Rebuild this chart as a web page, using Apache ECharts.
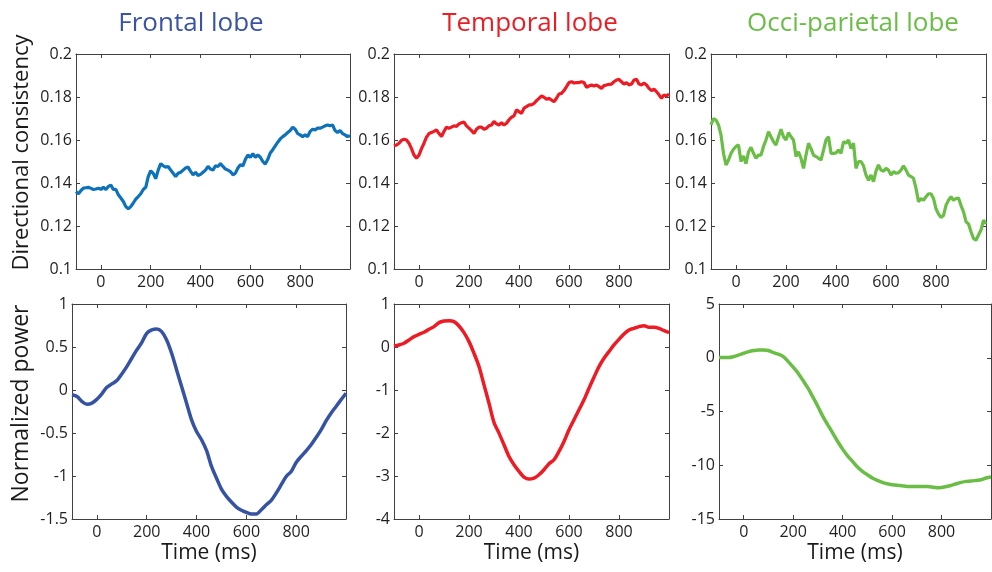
<!DOCTYPE html>
<html>
<head>
<meta charset="utf-8">
<script src="https://cdn.jsdelivr.net/npm/echarts@6/dist/echarts.min.js"></script>
<style>html,body{margin:0;padding:0;background:#fff}#c{width:992px;height:572px}</style>
</head>
<body>
<div id="c"></div>
<script>
// ---- data ----
const panelTitles = ['Frontal lobe', 'Temporal lobe', 'Occi-parietal lobe'];
const xTickValues = [0, 200, 400, 600, 800];
const topYLabel = 'Directional consistency';
const bottomYLabel = 'Normalized power';
const xLabel = 'Time (ms)';

// sampling times (ms)
const tTopStart = -100, tTopStep = 10;   // top panels: -100..1000 every 10 ms
const tBotStart = -100, tBotStep = 20;   // bottom panels: -100..1000 every 20 ms

const frontalConsistency = [
0.136,0.135,0.1365,0.1376,0.1378,0.138,0.1375,0.137,0.1372,0.1376,
0.137,0.138,0.137,0.1384,0.139,0.137,0.137,0.1345,0.133,0.1314,
0.129,0.128,0.129,0.1307,0.1325,0.1337,0.135,0.137,0.138,0.143,
0.1457,0.1445,0.142,0.146,0.149,0.148,0.1474,0.1477,0.146,0.1445,
0.143,0.1445,0.145,0.146,0.147,0.1474,0.1454,0.1438,0.145,0.1435,
0.144,0.145,0.146,0.1477,0.1465,0.146,0.148,0.1477,0.149,0.1477,
0.1465,0.146,0.1453,0.1438,0.1446,0.147,0.1485,0.148,0.151,0.153,
0.152,0.1536,0.152,0.153,0.152,0.150,0.1488,0.151,0.154,0.1555,
0.1573,0.159,0.1605,0.1616,0.1624,0.1635,0.1644,0.166,0.165,0.163,
0.1624,0.1616,0.1624,0.1616,0.164,0.165,0.1647,0.1655,0.1655,0.166,
0.1666,0.167,0.1666,0.167,0.1644,0.1635,0.1644,0.163,0.1624,0.1616,
0.162];

const temporalConsistency = [
0.1573,0.1577,0.1585,0.1598,0.1604,0.160,0.1585,0.156,0.153,0.1515,
0.153,0.156,0.1585,0.1613,0.163,0.1635,0.164,0.1647,0.163,0.1616,
0.164,0.166,0.1655,0.166,0.1666,0.1663,0.1675,0.168,0.1683,0.1666,
0.1655,0.1644,0.163,0.165,0.166,0.166,0.165,0.1655,0.1666,0.167,
0.1686,0.1675,0.167,0.168,0.167,0.1678,0.1694,0.1706,0.1712,0.174,
0.1732,0.1724,0.1748,0.1755,0.1763,0.1763,0.177,0.1783,0.1794,0.1805,
0.1799,0.179,0.1794,0.1786,0.1778,0.1794,0.1814,0.1817,0.183,0.1848,
0.1867,0.1871,0.1865,0.1867,0.1867,0.1871,0.1867,0.1845,0.1851,0.1856,
0.1851,0.1856,0.1848,0.184,0.1853,0.1856,0.1859,0.186,0.1871,0.1879,
0.1882,0.1871,0.186,0.1867,0.1856,0.186,0.1879,0.1882,0.186,0.1856,
0.1865,0.1856,0.184,0.183,0.1836,0.1825,0.181,0.1794,0.181,0.1805,
0.1814];

const occipitalConsistency = [
0.167,0.170,0.1693,0.167,0.1623,0.1538,0.1484,0.1507,0.1538,0.1557,
0.157,0.1577,0.150,0.1526,0.149,0.1545,0.1566,0.1538,0.1515,0.153,
0.153,0.157,0.160,0.1639,0.1615,0.1592,0.1577,0.1615,0.165,0.1615,
0.160,0.1634,0.1615,0.160,0.1523,0.1545,0.1515,0.1468,0.153,0.1585,
0.156,0.153,0.1523,0.1515,0.1507,0.1553,0.160,0.1615,0.1538,0.1538,
0.154,0.1553,0.1538,0.1592,0.1585,0.160,0.156,0.1585,0.1468,0.150,
0.150,0.148,0.1437,0.1413,0.1437,0.1406,0.1455,0.1484,0.146,0.1455,
0.1468,0.146,0.1437,0.1453,0.1445,0.1448,0.146,0.148,0.146,0.1437,
0.143,0.1422,0.1375,0.1313,0.1328,0.132,0.1336,0.135,0.135,0.1328,
0.128,0.1256,0.124,0.1249,0.1296,0.132,0.1336,0.132,0.1328,0.133,
0.1296,0.1266,0.122,0.121,0.1173,0.1142,0.1134,0.1158,0.1181,0.1227,
0.121];

const frontalPower = [
-0.056,-0.076,-0.134,-0.165,-0.153,-0.107,-0.045,0.032,0.071,0.110,
0.187,0.272,0.369,0.466,0.551,0.659,0.698,0.710,0.679,0.582,
0.427,0.234,0.040,-0.153,-0.347,-0.482,-0.579,-0.703,-0.889,-1.024,
-1.152,-1.237,-1.303,-1.361,-1.399,-1.423,-1.442,-1.442,-1.392,-1.334,
-1.283,-1.198,-1.101,-1.005,-0.947,-0.842,-0.772,-0.707,-0.637,-0.552,
-0.463,-0.358,-0.269,-0.192,-0.114,-0.037];

const temporalPower = [
0.025,0.048,0.087,0.164,0.241,0.296,0.342,0.412,0.474,0.567,
0.605,0.613,0.590,0.489,0.334,0.125,-0.146,-0.455,-0.881,-1.307,
-1.755,-2.003,-2.274,-2.545,-2.738,-2.893,-3.025,-3.071,-3.048,-2.971,
-2.854,-2.715,-2.622,-2.429,-2.197,-1.926,-1.693,-1.461,-1.229,-0.958,
-0.703,-0.455,-0.262,-0.107,0.048,0.180,0.303,0.396,0.435,0.474,
0.497,0.458,0.458,0.435,0.381,0.334];

const occipitalPower = [
0.015,0.015,0.015,0.11,0.26,0.42,0.57,0.67,0.73,0.73,
0.67,0.48,0.33,0.11,-0.36,-0.88,-1.44,-2.12,-2.83,-3.67,
-4.54,-5.46,-6.24,-7.01,-7.79,-8.50,-9.12,-9.64,-10.17,-10.57,
-10.88,-11.19,-11.41,-11.59,-11.72,-11.81,-11.87,-11.90,-11.97,-11.97,
-11.97,-11.97,-11.97,-12.03,-12.09,-12.06,-11.97,-11.87,-11.72,-11.59,
-11.50,-11.47,-11.41,-11.35,-11.19,-11.10];

const topYRange = [0.1, 0.2, 0.02];
const bottomYRanges = [[-1.5, 1, 0.5], [-4, 1, 1], [-15, 5, 5]];

// ---- styling ----
const colors = {
  titles: ['#3a53a4', '#ed1c24', '#6abd45'],
  top: ['#0d72ba', '#ed1c24', '#6abd45'],
  bottom: ['#3653a3', '#ed1c24', '#6abd45']
};
const FONT = 'Open Sans';
const AX = '#404040';
const LBL = '#1f1f1f';

const grids = [
  {left: 76, top: 54, width: 274, height: 215},
  {left: 394, top: 54, width: 275, height: 215},
  {left: 711, top: 54, width: 275, height: 215},
  {left: 72, top: 304, width: 274, height: 215},
  {left: 394, top: 304, width: 275, height: 215},
  {left: 719, top: 304, width: 272, height: 215}
];

function pairs(start, step, arr) {
  return arr.map((v, i) => [start + i * step, v]);
}

const xAxes = [], yAxes = [], series = [];
const topData = [frontalConsistency, temporalConsistency, occipitalConsistency];
const botData = [frontalPower, temporalPower, occipitalPower];
const lineOpt = {show: true, onZero: false, lineStyle: {color: AX, width: 1}};

for (let g = 0; g < 6; g++) {
  const isBottom = g >= 3;
  const col = g % 3;
  const yr = isBottom ? bottomYRanges[col] : topYRange;
  xAxes.push({
    gridIndex: g, type: 'value', position: 'bottom', min: -100, max: 1000, interval: 100,
    axisLine: lineOpt,
    axisTick: {show: true, inside: true, length: 4, customValues: xTickValues, lineStyle: {color: AX}},
    axisLabel: {show: true, customValues: xTickValues, color: LBL, fontFamily: FONT, fontSize: 16, margin: 5},
    splitLine: {show: false},
    name: isBottom ? xLabel : '', nameLocation: 'middle', nameGap: 24, nameMoveOverlap: false,
    nameTextStyle: {color: '#1a1a1a', fontFamily: FONT, fontSize: 21}
  });
  xAxes.push({
    gridIndex: g, type: 'value', position: 'top', min: -100, max: 1000, interval: 100,
    axisLine: lineOpt,
    axisTick: {show: true, inside: true, length: 4, customValues: xTickValues, lineStyle: {color: AX}},
    axisLabel: {show: false}, splitLine: {show: false}
  });
  const showName = (g === 0 || g === 3);
  yAxes.push({
    gridIndex: g, type: 'value', position: 'left', min: yr[0], max: yr[1], interval: yr[2],
    axisLine: lineOpt,
    axisTick: {show: true, inside: true, length: 4, lineStyle: {color: AX}},
    axisLabel: {show: true, color: LBL, fontFamily: FONT, fontSize: 16, margin: 4},
    splitLine: {show: false},
    name: showName ? (isBottom ? bottomYLabel : topYLabel) : '',
    nameLocation: 'middle', nameGap: isBottom ? 39 : 43, nameMoveOverlap: false,
    nameTextStyle: {color: '#1a1a1a', fontFamily: FONT, fontSize: isBottom ? 23 : 22,
      padding: isBottom ? [0, 0, 0, 16] : [0, 0, 0, 18]}
  });
  yAxes.push({
    gridIndex: g, type: 'value', position: 'right', min: yr[0], max: yr[1], interval: yr[2],
    axisLine: lineOpt,
    axisTick: {show: true, inside: true, length: 4, lineStyle: {color: AX}},
    axisLabel: {show: false}, splitLine: {show: false}
  });
  const data = isBottom ? pairs(tBotStart, tBotStep, botData[col]) : pairs(tTopStart, tTopStep, topData[col]);
  series.push({
    type: 'line', xAxisIndex: 2 * g, yAxisIndex: 2 * g, data: data,
    showSymbol: false, symbol: 'none', smooth: isBottom ? 0.3 : false,
    lineStyle: {color: isBottom ? colors.bottom[col] : colors.top[col], width: isBottom ? 3.5 : 3.2},
    clip: true, animation: false, z: 1
  });
}

const titleX = [191, 530, 853];
const graphic = panelTitles.map((t, i) => ({
  type: 'text', x: titleX[i], y: 24,
  style: {text: t, fill: colors.titles[i], font: '26px "' + FONT + '"', textAlign: 'center', textVerticalAlign: 'middle'}
}));

const chart = echarts.init(document.getElementById('c'), null, {renderer: 'canvas'});
chart.setOption({
  animation: false,
  backgroundColor: '#ffffff',
  grid: grids,
  xAxis: xAxes,
  yAxis: yAxes,
  series: series,
  graphic: graphic
});
</script>
</body>
</html>
